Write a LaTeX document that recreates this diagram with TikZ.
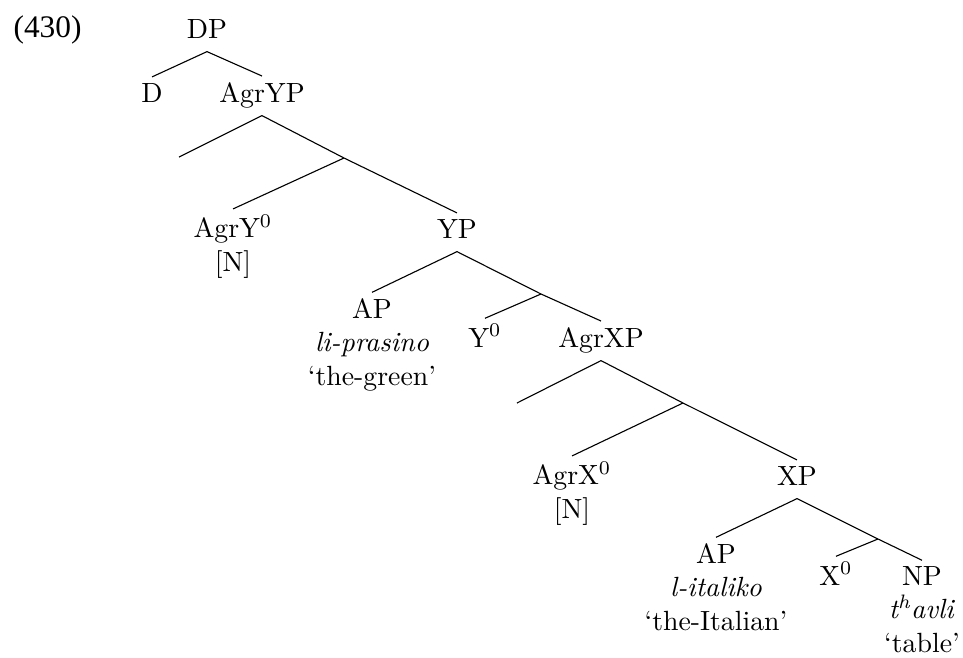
\documentclass[tikz,border=0pt]{standalone}
\usepackage{fontspec}
\newfontfamily\exnumfont{Liberation Serif}

\begin{document}
\begin{tikzpicture}[x=0.36pt,y=-0.36pt,
    cat/.style={inner sep=2pt,text depth=2.7pt,anchor=base},
    leaf/.style={inner sep=2pt,align=center,anchor=base}]
    \useasboundingbox (0,0) rectangle (963,657);
    \node[anchor=base west,inner sep=0pt] (num) at (13,37) {\exnumfont\fontsize{11.3}{13}\selectfont (430)};

    \node[cat] (dp) at (207,38) {DP};
    \node[cat] (d) at (152,102) {D};
    \node[cat] (agryp) at (262,102) {AgrYP};
    \coordinate (specy) at (179,157);
    \coordinate (agrybar) at (344,158);
    \node[leaf] (agry) at (233,271) {AgrY$^0$\\{[N]}};
    \node[cat] (yp) at (457,238) {YP};
    \node[leaf] (apy) at (372,385) {AP\\\textit{li-prasino}\\`the-green'};
    \coordinate (ybar) at (541,294);
    \node[cat] (y) at (485,347) {Y$^0$};
    \node[cat] (agrxp) at (601,347) {AgrXP};
    \coordinate (specx) at (517,403);
    \coordinate (agrxbar) at (683,403);
    \node[leaf] (agrx) at (572,518) {AgrX$^0$\\{[N]}};
    \node[cat] (xp) at (797,485) {XP};
    \node[leaf] (apx) at (716,630) {AP\\\textit{l-italiko}\\`the-Italian'};
    \coordinate (xbar) at (878,539);
    \node[cat] (x) at (836,585) {X$^0$};
    \node[leaf] (np) at (922,652) {NP\\\textit{t\textsuperscript{h}avli}\\`table'};

    \draw (dp.south) -- (d.north);
    \draw (dp.south) -- (agryp.north);
    \draw (agryp.south) -- (specy);
    \draw (agryp.south) -- (agrybar);
    \draw (agrybar) -- (agry.north);
    \draw (agrybar) -- (yp.north);
    \draw (yp.south) -- (apy.north);
    \draw (yp.south) -- (ybar);
    \draw (ybar) -- (y.north);
    \draw (ybar) -- (agrxp.north);
    \draw (agrxp.south) -- (specx);
    \draw (agrxp.south) -- (agrxbar);
    \draw (agrxbar) -- (agrx.north);
    \draw (agrxbar) -- (xp.north);
    \draw (xp.south) -- (apx.north);
    \draw (xp.south) -- (xbar);
    \draw (xbar) -- (x.north);
    \draw (xbar) -- (np.north);
\end{tikzpicture}
\end{document}
